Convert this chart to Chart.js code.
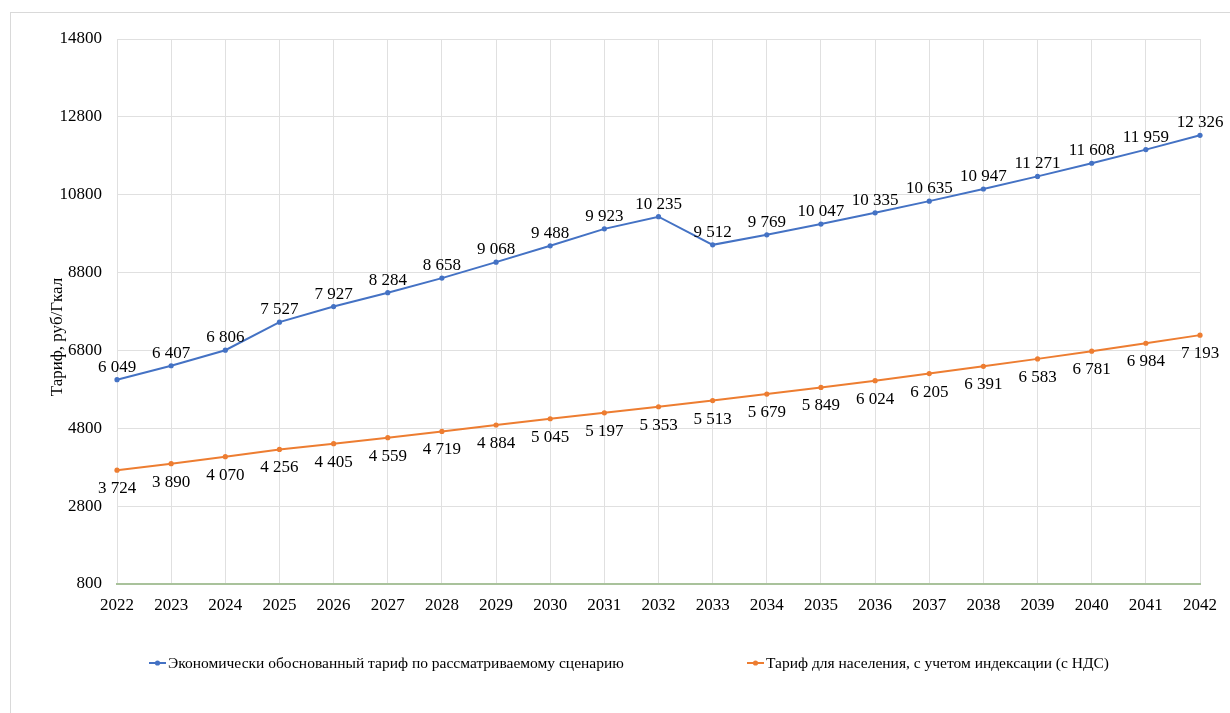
<!DOCTYPE html>
<html>
<head>
<meta charset="utf-8">
<script src="https://cdn.jsdelivr.net/npm/chart.js@4.4.1/dist/chart.umd.min.js"></script>
<style>
  html, body { margin: 0; padding: 0; background: #ffffff; }
  #frame { position: absolute; left: 10px; top: 12px; width: 1300px; height: 800px; border: 1px solid #d9d9d9; z-index: 0; }
  #wrap { position: absolute; left: 0; top: 0; width: 1230px; height: 713px; z-index: 1; }
</style>
</head>
<body>
<div id="frame"></div>
<div id="wrap"><canvas id="c" width="1230" height="713"></canvas></div>
<script>
const years = ['2022','2023','2024','2025','2026','2027','2028','2029','2030','2031','2032','2033','2034','2035','2036','2037','2038','2039','2040','2041','2042'];
const economicTariff = [6049, 6407, 6806, 7527, 7927, 8284, 8658, 9068, 9488, 9923, 10235, 9512, 9769, 10047, 10335, 10635, 10947, 11271, 11608, 11959, 12326];
const populationTariff = [3724, 3890, 4070, 4256, 4405, 4559, 4719, 4884, 5045, 5197, 5353, 5513, 5679, 5849, 6024, 6205, 6391, 6583, 6781, 6984, 7193];
const seriesNames = ['Экономически обоснованный тариф по рассматриваемому сценарию', 'Тариф для населения, с учетом индексации (с НДС)'];
const yTicks = [800, 2800, 4800, 6800, 8800, 10800, 12800, 14800];
const yTitle = 'Тариф, руб/Гкал';

const FONT = "'Liberation Serif', 'Times New Roman', serif";
const BLUE = '#4472C4';
const ORANGE = '#ED7D31';

function fmt(v) {
  const s = String(v);
  return s.replace(/\B(?=(\d{3})+(?!\d))/g, ' ');
}

const labelPlugin = {
  id: 'valueLabels',
  afterDatasetsDraw(chart) {
    const ctx = chart.ctx;
    ctx.save();
    ctx.font = '17px ' + FONT;
    ctx.fillStyle = '#000000';
    ctx.textAlign = 'center';
    ctx.textBaseline = 'alphabetic';
    chart.data.datasets.forEach((ds, di) => {
      const meta = chart.getDatasetMeta(di);
      meta.data.forEach((pt, i) => {
        const dy = di === 0 ? -8 : 23;
        ctx.fillText(fmt(ds.data[i]), pt.x, pt.y + dy);
      });
    });
    ctx.restore();
  }
};

const titlePlugin = {
  id: 'yTitle',
  afterDraw(chart) {
    const ctx = chart.ctx;
    ctx.save();
    ctx.translate(58, 337);
    ctx.rotate(-Math.PI / 2);
    ctx.font = '17px ' + FONT;
    ctx.fillStyle = '#000000';
    ctx.textAlign = 'center';
    ctx.textBaseline = 'middle';
    ctx.fillText(yTitle, 0, 0);
    ctx.restore();
  }
};

const legendPlugin = {
  id: 'customLegend',
  afterDraw(chart) {
    const ctx = chart.ctx;
    ctx.save();
    ctx.font = '15.5px ' + FONT;
    const marker = 17, gapText = 2;
    const starts = [149, 747];
    const y = 663;
    chart.data.datasets.forEach((ds, i) => {
      const x = starts[i];
      ctx.strokeStyle = ds.borderColor;
      ctx.lineWidth = 2;
      ctx.beginPath();
      ctx.moveTo(x, y);
      ctx.lineTo(x + marker, y);
      ctx.stroke();
      ctx.fillStyle = ds.borderColor;
      ctx.beginPath();
      ctx.arc(x + marker / 2, y, 2.6, 0, Math.PI * 2);
      ctx.fill();
      ctx.fillStyle = '#000000';
      ctx.textAlign = 'left';
      ctx.textBaseline = 'middle';
      ctx.fillText(ds.label, x + marker + gapText, y + 1);
    });
    ctx.restore();
  }
};

new Chart(document.getElementById('c'), {
  type: 'line',
  data: {
    labels: years,
    datasets: [
      {
        label: seriesNames[0],
        data: economicTariff,
        borderColor: BLUE,
        backgroundColor: BLUE,
        borderWidth: 2,
        pointRadius: 2.6,
        pointBackgroundColor: BLUE,
        pointBorderWidth: 0,
        tension: 0
      },
      {
        label: seriesNames[1],
        data: populationTariff,
        borderColor: ORANGE,
        backgroundColor: ORANGE,
        borderWidth: 2,
        pointRadius: 2.6,
        pointBackgroundColor: ORANGE,
        pointBorderWidth: 0,
        tension: 0
      }
    ]
  },
  options: {
    responsive: false,
    animation: false,
    devicePixelRatio: 1,
    layout: { padding: { left: 0, right: 30, top: 39, bottom: 89 } },
    plugins: {
      legend: { display: false },
      tooltip: { enabled: false }
    },
    scales: {
      x: {
        type: 'category',
        offset: false,
        grid: { color: '#e0e0e0', lineWidth: 1, drawTicks: false },
        border: { display: true, color: '#a9c29b', width: 2 },
        ticks: { font: { family: FONT, size: 17 }, color: '#000000', padding: 11, maxRotation: 0, autoSkip: false },
        afterFit(scale) { scale.height = 40; }
      },
      y: {
        min: 800,
        max: 14800,
        afterBuildTicks(scale) { scale.ticks = yTicks.map(v => ({ value: v })); },
        grid: {
          color: ctx => (ctx.tick && ctx.tick.value === 800) ? 'rgba(0,0,0,0)' : '#e0e0e0',
          lineWidth: 1,
          drawTicks: false
        },
        border: { display: false },
        ticks: { font: { family: FONT, size: 17 }, color: '#000000', padding: 15, callback: v => String(v) },
        afterFit(scale) { scale.width = 117; }
      }
    }
  },
  plugins: [labelPlugin, titlePlugin, legendPlugin]
});
</script>
</body>
</html>
